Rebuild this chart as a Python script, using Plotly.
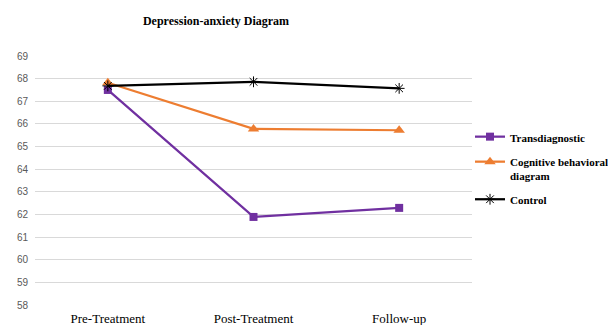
import plotly.graph_objects as go

# Measurement occasions and group means
stages = ["Pre-Treatment", "Post-Treatment", "Follow-up"]
transdiagnostic = [67.5, 61.89, 62.29]
cognitive_behavioral = [67.82, 65.78, 65.72]
control = [67.68, 67.86, 67.57]

y_ticks = list(range(58, 70))

fig = go.Figure()

fig.add_trace(go.Scatter(
    x=stages, y=transdiagnostic, name="Transdiagnostic",
    mode="lines+markers", legendgroup="a",
    line=dict(color="#7030a0", width=2.25),
    marker=dict(symbol="square", size=8, color="#7030a0"),
))
fig.add_trace(go.Scatter(
    x=stages, y=cognitive_behavioral, name="Cognitive behavioral<br>diagram",
    mode="lines+markers", legendgroup="b",
    line=dict(color="#ed7d31", width=2.25),
    marker=dict(symbol="triangle-up", size=10, color="#ed7d31"),
))
fig.add_trace(go.Scatter(
    x=stages, y=control, name="Control",
    mode="lines+markers", legendgroup="c",
    line=dict(color="#000000", width=2.25),
    marker=dict(symbol="asterisk-open", size=9,
                line=dict(color="#404040", width=1)),
))

fig.update_layout(
    width=608, height=325,
    margin=dict(l=35, r=136, t=56, b=20, autoexpand=False),
    paper_bgcolor="white", plot_bgcolor="white",
    title=dict(
        text="<b>Depression-anxiety Diagram</b>",
        x=216 / 608, xanchor="center", xref="container",
        y=1 - 21 / 325, yanchor="middle", yref="container",
        font=dict(family="Liberation Serif", size=12, color="#000000"),
    ),
    xaxis=dict(
        range=[-0.5, 2.5],
        showgrid=False, zeroline=False, showline=False,
        tickfont=dict(family="Liberation Serif", size=13, color="#000000"),
        ticklabelstandoff=4,
    ),
    yaxis=dict(
        range=[58, 69], tickvals=y_ticks,
        showgrid=True, gridcolor="#d9d9d9", gridwidth=1,
        zeroline=False, showline=False,
        tickfont=dict(family="Liberation Sans", size=10, color="#595959"),
        ticklabelstandoff=6,
    ),
    legend=dict(
        x=470 / 608, xanchor="left", xref="container",
        y=1 - 123 / 325, yanchor="top", yref="container",
        font=dict(family="Liberation Serif", size=11, color="#000000", weight="bold"),
        tracegroupgap=6, itemwidth=30, valign="top",
        bgcolor="rgba(0,0,0,0)",
    ),
    showlegend=True,
)

fig.write_html("out.html")
